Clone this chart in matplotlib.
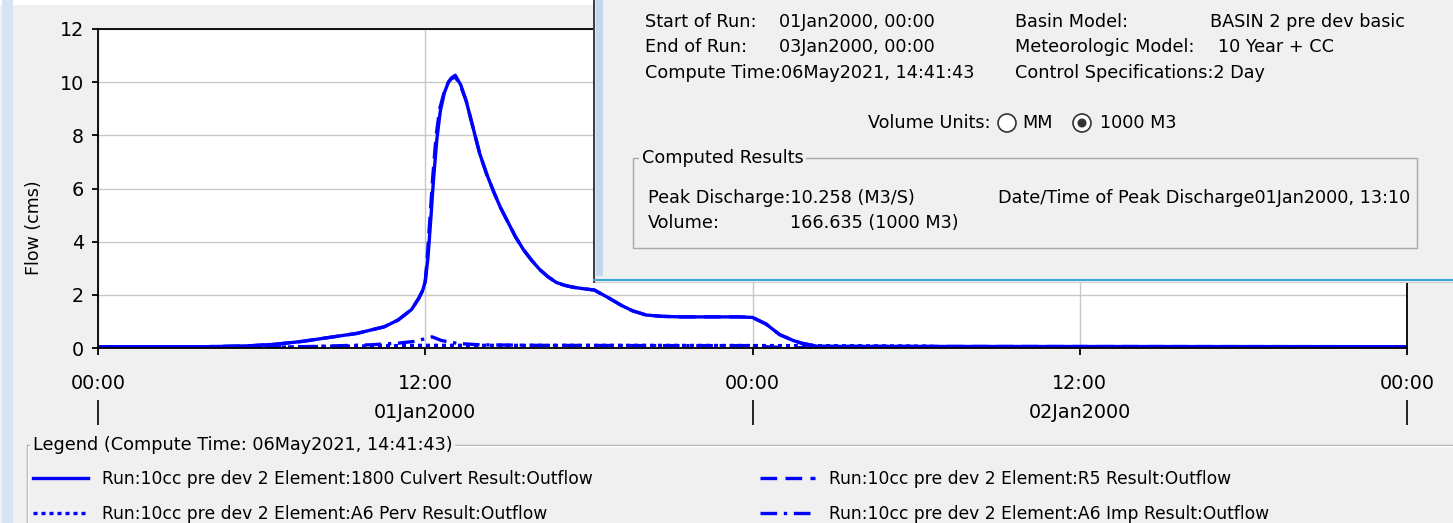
import matplotlib
matplotlib.use("Agg")
import matplotlib.pyplot as plt
from matplotlib.patches import Rectangle, Circle

plt.rcParams['font.family'] = ['DejaVu Sans']

# hydrograph values (hours from 01Jan2000 00:00, flow in cms)
hours_culvert = [0, 4, 5.5, 6.5, 7.5, 8.5, 9.5, 10.5, 11, 11.5, 11.75, 11.9, 12, 12.1, 12.2,
                 12.3, 12.42, 12.55, 12.7, 12.85, 12.95, 13.1, 13.3, 13.5, 13.75, 14.0,
                 14.25, 14.5, 14.75, 15.0, 15.3, 15.6, 15.9, 16.2, 16.5, 16.8, 17.1, 17.4,
                 17.8, 18.2, 18.7, 19.2, 19.6, 20.1, 20.7, 21.4, 23.5, 24.0, 24.5, 25.0,
                 25.5, 25.8, 26.4, 48]
flow_culvert = [0.05, 0.05, 0.08, 0.14, 0.25, 0.4, 0.55, 0.8, 1.05, 1.45, 1.85, 2.15, 2.5, 3.4,
                4.8, 6.3, 7.8, 8.9, 9.6, 10.0, 10.15, 10.26, 9.9, 9.3, 8.3, 7.3,
                6.55, 5.9, 5.3, 4.8, 4.2, 3.7, 3.3, 2.95, 2.68, 2.47, 2.36, 2.29,
                2.23, 2.18, 1.9, 1.6, 1.4, 1.24, 1.19, 1.17, 1.17, 1.15, 0.9, 0.5,
                0.28, 0.18, 0.06, 0.05]

hours_r5 = [0, 4, 5.5, 6.5, 7.5, 8.5, 9.5, 10.5, 11, 11.5, 11.75, 11.9, 12, 12.08, 12.18,
            12.28, 12.4, 12.53, 12.7, 12.85, 12.95, 13.1, 13.3, 13.5, 13.75, 14.0,
            14.25, 14.5, 14.75, 15.0, 15.3, 15.6, 15.9, 16.2, 16.5, 16.8, 17.1, 17.4,
            17.8, 18.2, 18.7, 19.2, 19.6, 20.1, 20.7, 21.4, 23.5, 24.0, 24.5, 25.0,
            25.5, 25.8, 26.4, 48]
flow_r5 = [0.05, 0.05, 0.08, 0.14, 0.25, 0.4, 0.55, 0.8, 1.05, 1.45, 1.85, 2.15, 2.5, 3.5,
           5.0, 6.5, 8.0, 9.0, 9.65, 10.0, 10.12, 10.2, 9.85, 9.3, 8.3, 7.3,
           6.55, 5.9, 5.3, 4.8, 4.2, 3.7, 3.3, 2.95, 2.68, 2.47, 2.36, 2.29,
           2.23, 2.18, 1.9, 1.6, 1.4, 1.24, 1.19, 1.17, 1.17, 1.15, 0.9, 0.5,
           0.28, 0.18, 0.06, 0.05]

hours_perv = [0, 5, 7, 9, 11, 12, 13, 15, 20, 25, 29, 30.5, 31, 48]
flow_perv = [0.0, 0.01, 0.04, 0.07, 0.09, 0.1, 0.1, 0.1, 0.1, 0.09, 0.08, 0.07, 0.02, 0.0]

hours_imp = [0, 6, 8, 10, 11, 11.6, 12.0, 12.25, 12.6, 13.2, 14, 16, 20, 24, 24.6, 25.5, 48]
flow_imp = [0.0, 0.02, 0.06, 0.12, 0.18, 0.25, 0.35, 0.42, 0.28, 0.17, 0.12, 0.1, 0.09, 0.09,
            0.04, 0.01, 0.0]

labels = ["Run:10cc pre dev 2 Element:1800 Culvert Result:Outflow",
          "Run:10cc pre dev 2 Element:A6 Perv Result:Outflow",
          "Run:10cc pre dev 2 Element:R5 Result:Outflow",
          "Run:10cc pre dev 2 Element:A6 Imp Result:Outflow"]

x_ticks = [0, 12, 24, 36, 48]
x_ticklabels = ["00:00", "12:00", "00:00", "12:00", "00:00"]
day_ticks = [12, 36]
day_labels = ["01Jan2000", "02Jan2000"]
y_ticks = [0, 2, 4, 6, 8, 10, 12]

W, H = 1453, 523
BG = '#f0f0f0'
BLUE = '#0000ff'

fig = plt.figure(figsize=(W / 100, H / 100), dpi=100, facecolor=BG)


def px_box(x0, y0, x1, y1):
    return [x0 / W, (H - y1) / H, (x1 - x0) / W, (y1 - y0) / H]


# page layer for window decoration and legend group box
page = fig.add_axes([0, 0, 1, 1])
page.set_xlim(0, W)
page.set_ylim(H, 0)
page.axis('off')
page.add_patch(Rectangle((0, 0), W, 5, color='white', lw=0))
page.add_patch(Rectangle((2, 0), 11, H, color='#d5e3f2', lw=0))
page.plot([27, 27, W], [H, 445, 445], color='#a8a8a8', lw=1)
page.plot([28, 28, W], [H, 446, 446], color='white', lw=1)
page.text(33, 445, "Legend (Compute Time: 06May2021, 14:41:43)", fontsize=12.7, va='center',
          ha='left', bbox=dict(facecolor=BG, edgecolor='none', pad=2))

# main hydrograph axes
ax = fig.add_axes(px_box(98, 29, 1407, 348))
l1, = ax.plot(hours_culvert, flow_culvert, color=BLUE, lw=2.4, ls='-')
l3, = ax.plot(hours_r5, flow_r5, color=BLUE, lw=2.4, ls=(0, (5, 2.5)))
l2, = ax.plot(hours_perv, flow_perv, color=BLUE, lw=2.4, ls=(0, (1.2, 1.2)))
l4, = ax.plot(hours_imp, flow_imp, color=BLUE, lw=2.4, ls=(0, (5, 2, 1, 2)))
ax.set_xlim(0, 48)
ax.set_ylim(0, 12)
ax.set_xticks(x_ticks, labels=x_ticklabels)
ax.set_yticks(y_ticks)
ax.grid(True, color='#c8c8c8', lw=1)
ax.set_axisbelow(True)
for s in ax.spines.values():
    s.set_color('black')
    s.set_linewidth(1.3)
ax.tick_params(axis='x', length=5, width=1.3, pad=14, labelsize=13.8)
ax.tick_params(axis='y', length=4, width=1.3, pad=6, labelsize=13.8)
ax.set_ylabel("Flow (cms)", fontsize=12.5)
ax.yaxis.set_label_coords(-0.042, 0.376)

# date row under the time axis
sec = ax.secondary_xaxis(-0.163)
sec.set_xticks([0, 24, 48], labels=["", "", ""])
sec.set_xticks(day_ticks, labels=day_labels, minor=True)
sec.tick_params(which='major', length=18, width=1.2, direction='out')
sec.tick_params(which='minor', length=0, pad=2, labelsize=13.8)
sec.spines['bottom'].set_visible(False)

leg_kw = dict(loc='upper left', frameon=False, fontsize=12.3, handlelength=3.2,
              handletextpad=0.85, labelspacing=1.0, borderpad=0, borderaxespad=0)
leg1 = fig.legend([l1, l2], labels[:2], bbox_to_anchor=(33 / W, (H - 470) / H), **leg_kw)
leg2 = fig.legend([l3, l4], labels[2:], bbox_to_anchor=(760 / W, (H - 470) / H), **leg_kw)

# summary panel drawn over the plot
pan = fig.add_axes(px_box(593, 0, W, 283))
pan.set_xlim(593, W)
pan.set_ylim(283, 0)
pan.set_facecolor(BG)
pan.set_xticks([])
pan.set_yticks([])
for s in pan.spines.values():
    s.set_visible(False)
pan.plot([594, 594], [0, 283], color='#404040', lw=1.5)
pan.add_patch(Rectangle((596, 0), 7, 276, color='#c3d7ec', lw=0))
pan.plot([594, W], [280, 280], color='#3aa6d8', lw=1.5)
pan.plot([594, W], [282.5, 282.5], color='#404040', lw=1)

fs = 12.7
info = [(645, 22, "Start of Run:"), (779, 22, "01Jan2000, 00:00"),
        (645, 47, "End of Run:"), (779, 47, "03Jan2000, 00:00"),
        (645, 73, "Compute Time:06May2021, 14:41:43"),
        (1015, 22, "Basin Model:"), (1210, 22, "BASIN 2 pre dev basic"),
        (1015, 47, "Meteorologic Model:"), (1218, 47, "10 Year + CC"),
        (1015, 73, "Control Specifications:2 Day"),
        (868, 123, "Volume Units:"), (1022, 123, "MM"), (1100, 123, "1000 M3"),
        (648, 198, "Peak Discharge:10.258 (M3/S)"),
        (998, 198, "Date/Time of Peak Discharge01Jan2000, 13:10"),
        (648, 223, "Volume:"), (790, 223, "166.635 (1000 M3)")]
for x, y, t in info:
    pan.text(x, y, t, fontsize=fs, ha='left', va='center')

pan.add_patch(Circle((1007, 123), 9, facecolor='white', edgecolor='#333333', lw=1.2))
pan.add_patch(Circle((1082, 123), 9, facecolor='white', edgecolor='#333333', lw=1.2))
pan.add_patch(Circle((1082, 123), 4.5, facecolor='#333333', edgecolor='none'))

pan.add_patch(Rectangle((633, 158), 1417 - 633, 248 - 158, facecolor='none',
                        edgecolor='#a8a8a8', lw=1))
pan.text(642, 158, "Computed Results", fontsize=fs, ha='left', va='center',
         bbox=dict(facecolor=BG, edgecolor='none', pad=2))

fig.savefig("out.png", dpi=100, facecolor=BG)
